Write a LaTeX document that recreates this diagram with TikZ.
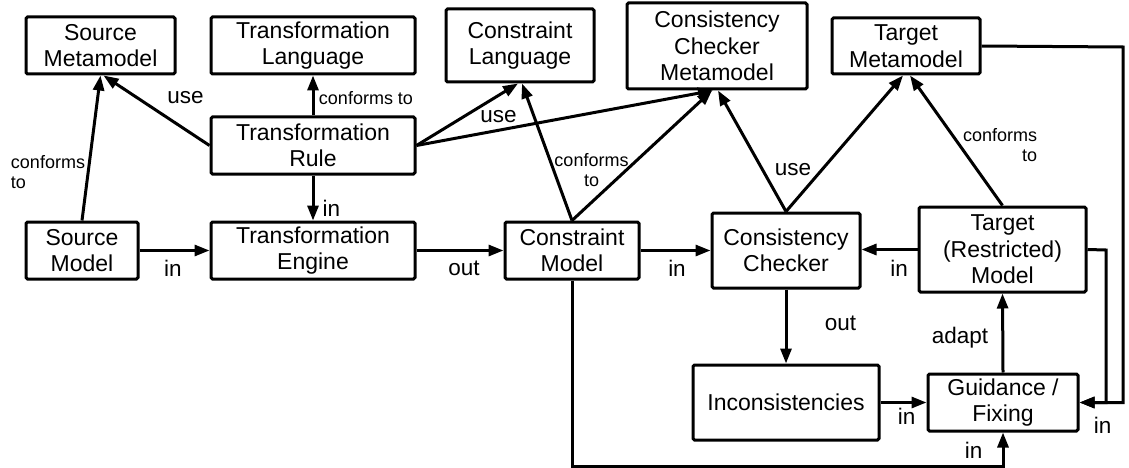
\documentclass[tikz,border=0pt]{standalone}
\usepackage{fontspec}
\setmainfont{Liberation Sans}
\usetikzlibrary{arrows.meta}
\begin{document}
\begin{tikzpicture}[x=1pt,y=-1pt,
  box/.style={draw, line width=3pt, rounded corners=1.5pt, align=center, inner sep=0pt,
    font=\fontsize{23}{26.5}\selectfont},
  lbl/.style={inner sep=0pt, font=\fontsize{22.5}{26}\selectfont},
  small/.style={inner sep=0pt, font=\fontsize{18}{20}\selectfont},
  arr/.style={line width=3pt, -{Triangle[length=15pt,width=11pt]}},
  wire/.style={line width=3pt}]
\useasboundingbox (0,0) rectangle (1129,468);

% top row: metamodels and languages
\node[box, minimum width=149pt, minimum height=57pt] (smm) at (100.5,45.5) {Source\\Metamodel};
\node[box, minimum width=204pt, minimum height=57pt] (tl)  at (313,45.5)   {Transformation\\Language};
\node[box, minimum width=148pt, minimum height=73pt] (cl)  at (520,45.5)   {Constraint\\Language};
\node[box, minimum width=180pt, minimum height=86pt] (ccm) at (717,46)     {Consistency\\Checker\\Metamodel};
\node[box, minimum width=148pt, minimum height=56pt] (tm)  at (906,46)     {Target\\Metamodel};

% middle rows
\node[box, minimum width=204pt, minimum height=57pt] (tr)  at (313,145.5)  {Transformation\\Rule};
\node[box, minimum width=112pt, minimum height=57pt] (sm)  at (82,250.5)   {Source\\Model};
\node[box, minimum width=204pt, minimum height=57pt] (te)  at (313,250.5)  {Transformation\\Engine};
\node[box, minimum width=134pt, minimum height=57pt] (cm)  at (572,250.5)  {Constraint\\Model};
\node[box, minimum width=148pt, minimum height=75pt] (cc)  at (786,250.5)  {Consistency\\Checker};
\node[box, minimum width=167pt, minimum height=85pt] (trm) at (1002.5,249.5) {Target\\(Restricted)\\Model};

% bottom row
\node[box, minimum width=186pt, minimum height=75pt] (inc) at (786,402.5)  {Inconsistencies};
\node[box, minimum width=150pt, minimum height=57pt] (gf)  at (1003,402.5) {Guidance /\\Fixing};

% routing points
\coordinate (bot) at (572,466);
\coordinate (rin) at (1106,250);
\coordinate (rout) at (1123,47);

% connectors
\draw[arr] (sm.north) -- (smm.south);
\draw[arr] (tr.west) -- ([xshift=3pt]smm.south);
\draw[arr] (tr.north) -- (tl.south);
\draw[arr] (tr.south) -- (te.north);
\draw[arr] (tr.east) -- ([xshift=-2pt]cl.south);
\draw[arr] (tr.east) -- ([xshift=-4pt]ccm.south);
\draw[arr] (sm.east) -- (te.west);
\draw[arr] (te.east) -- (cm.west);
\draw[arr] (cm.north) -- ([xshift=2pt]cl.south);
\draw[arr] (cm.north) -- ([xshift=-5pt]ccm.south);
\draw[arr] (cm.east) -- (cc.west);
\draw[arr] (cc.north) -- ([xshift=1pt]ccm.south);
\draw[arr] (cc.north) -- ([xshift=-3pt]tm.south);
\draw[arr] (trm.north) -- ([xshift=4pt]tm.south);
\draw[arr] (trm.west) -- (trm.west -| cc.east);
\draw[arr] (cc.south) -- (inc.north);
\draw[arr] (inc.east) -- (gf.west);
\draw[arr] (gf.north) -- (trm.south);
\draw[arr] (cm.south) -- (bot) -| (gf.south);
\draw[arr] (trm.east) -- (rin) |- (gf.east);
\draw[arr] (tm.east) -- (rout) |- (gf.east);

% connector labels
\node[small, align=left]   (l1)  at (48,172)    {conforms\\to};
\node[lbl]                 (l2)  at (185.5,98)  {use};
\node[small]               (l3)  at (366,98)    {conforms to};
\node[lbl]                 (l4)  at (331.5,208) {in};
\node[lbl]                 (l5)  at (498.5,117) {use};
\node[small, align=center] (l6)  at (591.5,170) {conforms\\to};
\node[lbl]                 (l7)  at (793,170)   {use};
\node[small, align=right]  (l8)  at (1000,145)  {conforms\\to};
\node[lbl]                 (l9)  at (173,268)   {in};
\node[lbl]                 (l10) at (464,268)   {out};
\node[lbl]                 (l11) at (677,268)   {in};
\node[lbl]                 (l12) at (899,268)   {in};
\node[lbl]                 (l13) at (840.5,323) {out};
\node[lbl]                 (l14) at (960,338)   {adapt};
\node[lbl]                 (l15) at (906.5,416) {in};
\node[lbl]                 (l16) at (973.5,450) {in};
\node[lbl]                 (l17) at (1102.5,425) {in};
\end{tikzpicture}
\end{document}
